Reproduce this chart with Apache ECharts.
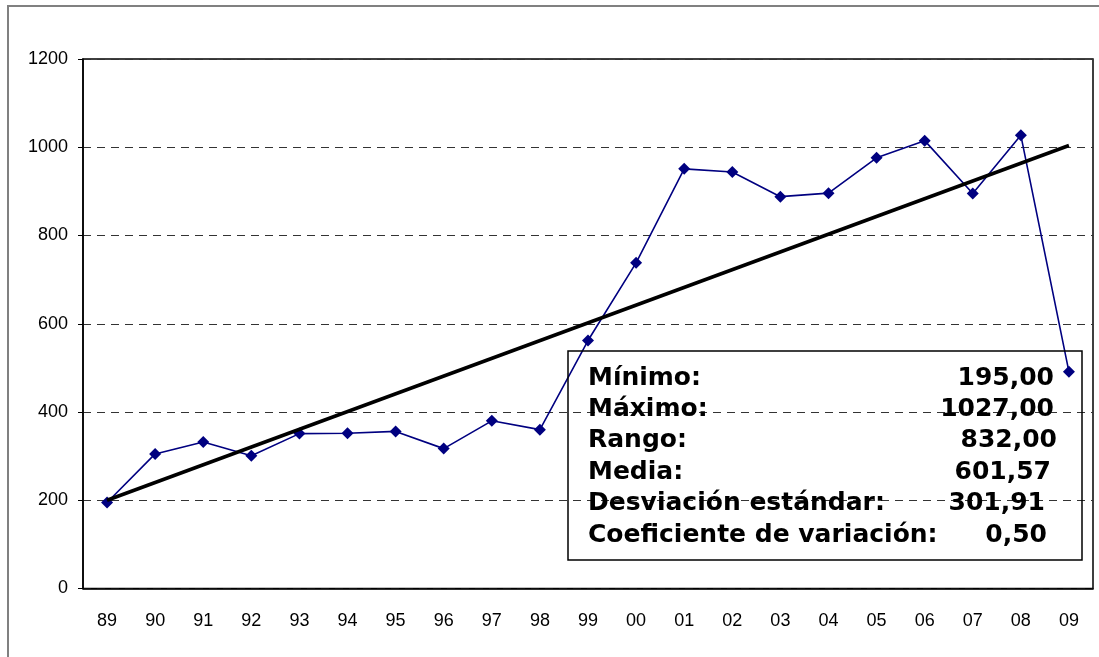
<!DOCTYPE html>
<html>
<head>
<meta charset="utf-8">
<script src="https://cdn.jsdelivr.net/npm/echarts@6/dist/echarts.min.js"></script>
<style>
  html, body { margin: 0; padding: 0; background: #fff; }
  #chart { width: 1099px; height: 657px; }
</style>
</head>
<body>
<div id="chart"></div>
<script>
// años (eje X)
const years = ['89', '90', '91', '92', '93', '94', '95', '96', '97', '98', '99',
  '00', '01', '02', '03', '04', '05', '06', '07', '08', '09']
// valores
const values = [195, 305, 332, 301, 351, 352, 356, 317, 380, 360, 562,
  738, 951, 944, 888, 896, 976, 1015, 895, 1027, 491]
// línea de tendencia: valor inicial y final
const trendEnds = [200, 1004]
const yTicks = [0, 200, 400, 600, 800, 1000, 1200]
// cuadro de estadísticas
const statLabels = ['Mínimo:', 'Máximo:', 'Rango:', 'Media:', 'Desviación estándar:', 'Coeficiente de variación:']
const statValues = ['195,00', '1027,00', '832,00', '601,57', '301,91', '0,50']

const trendData = years.map((y, i) => {
  if (i === 0) return trendEnds[0]
  if (i === years.length - 1) return trendEnds[1]
  return null
})

const boxX = 567
const boxY = 350
const rowTop = 378
const rowStep = 31.4
// borde derecho de cada valor (el original usa tabulaciones)
const valueRight = [1054, 1054, 1057, 1051, 1045, 1047]
const statFont = 'bold 25px "DejaVu Sans", Verdana, sans-serif'
const statText = []
statLabels.forEach((label, i) => {
  statText.push({
    type: 'text',
    x: boxX + 21,
    y: rowTop + rowStep * i,
    style: {
      text: label,
      font: statFont,
      fill: '#000',
      textVerticalAlign: 'middle'
    },
    z: 10
  })
  statText.push({
    type: 'text',
    x: valueRight[i],
    y: rowTop + rowStep * i,
    style: {
      text: statValues[i],
      font: statFont,
      fill: '#000',
      textAlign: 'right',
      textVerticalAlign: 'middle'
    },
    z: 10
  })
})

const chart = echarts.init(document.getElementById('chart'))
const option = {
  backgroundColor: '#fff',
  animation: false,
  grid: {
    left: 83,
    top: 59,
    right: 6,
    bottom: 68.5,
    show: true,
    borderColor: '#000',
    borderWidth: 1.5
  },
  xAxis: {
    type: 'category',
    data: years,
    boundaryGap: true,
    axisLine: { lineStyle: { color: '#000', width: 1.5 } },
    axisTick: { show: false },
    axisLabel: {
      color: '#000',
      fontSize: 18,
      fontFamily: '"Liberation Sans", Arial, sans-serif',
      margin: 24,
      interval: 0
    }
  },
  yAxis: {
    type: 'value',
    min: yTicks[0],
    max: yTicks[yTicks.length - 1],
    interval: 200,
    axisLine: { show: true, lineStyle: { color: '#000', width: 1.5 } },
    axisTick: { show: true, length: 5, lineStyle: { color: '#000' } },
    axisLabel: {
      color: '#000',
      fontSize: 18,
      fontFamily: '"Liberation Sans", Arial, sans-serif',
      margin: 15,
      formatter: v => String(v)
    },
    splitLine: {
      show: true,
      lineStyle: { color: '#333', type: [8, 6], width: 1 }
    }
  },
  series: [
    {
      type: 'line',
      data: values,
      symbol: 'diamond',
      symbolSize: 12,
      lineStyle: { color: '#000080', width: 1.6 },
      itemStyle: { color: '#000080' },
      z: 3
    },
    {
      type: 'line',
      data: trendData,
      connectNulls: true,
      showSymbol: false,
      symbol: 'none',
      lineStyle: { color: '#000', width: 3.5 },
      z: 4
    }
  ],
  graphic: [
    {
      type: 'rect',
      shape: { x: 8, y: 6, width: 1200, height: 800 },
      style: { fill: 'none', stroke: '#808080', lineWidth: 2 },
      silent: true,
      z: -1
    },
    {
      type: 'rect',
      shape: { x: boxX + 1, y: boxY + 1, width: 514, height: 209 },
      style: { fill: 'none', stroke: '#000', lineWidth: 1.5 },
      z: 10
    }
  ].concat(statText)
}
chart.setOption(option)
</script>
</body>
</html>
